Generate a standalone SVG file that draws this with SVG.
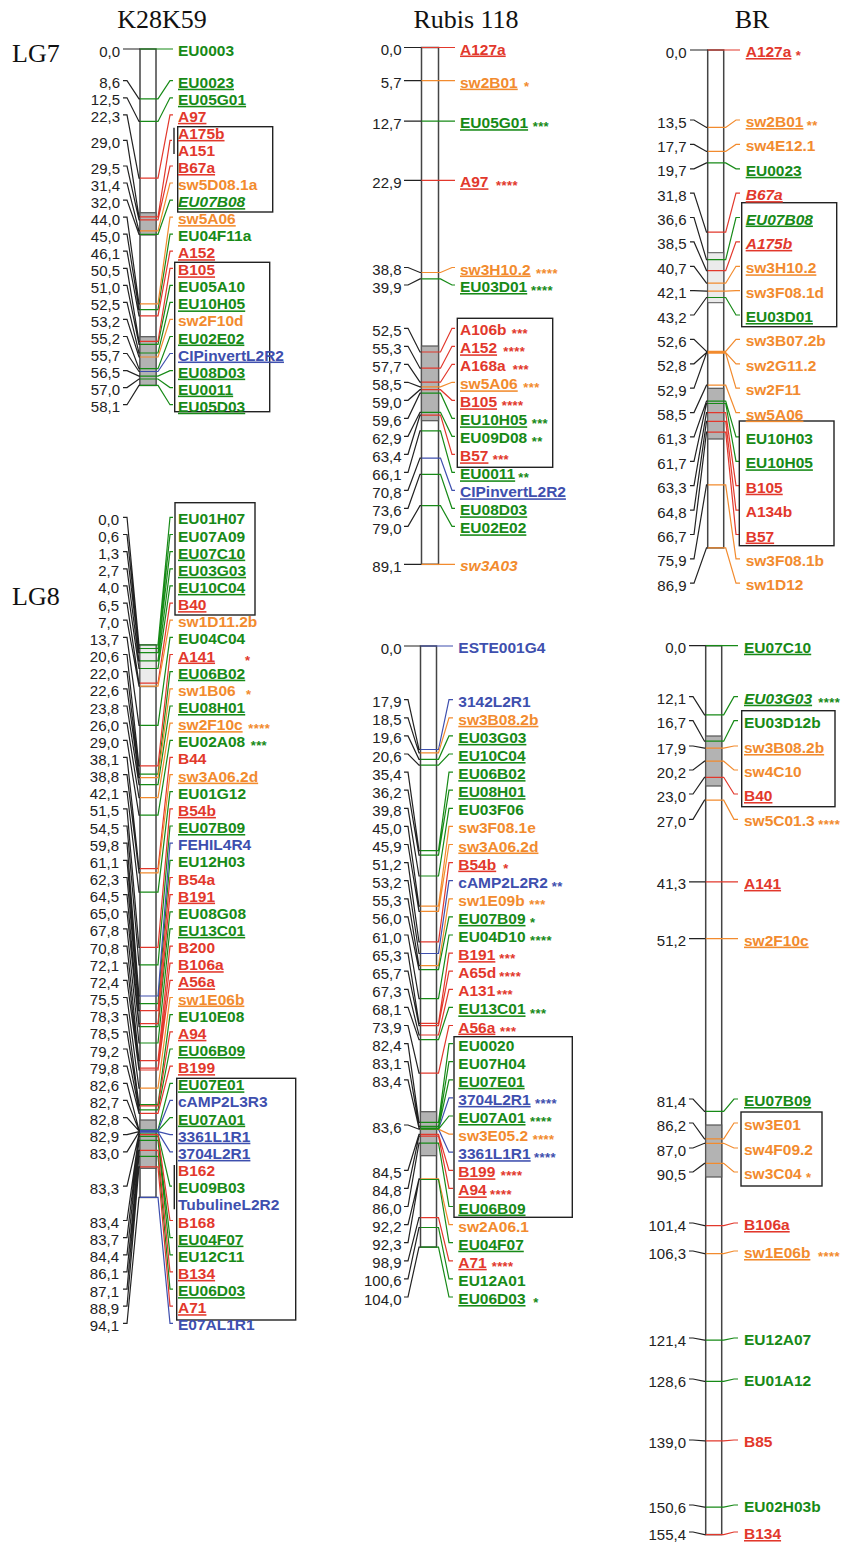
<svg xmlns="http://www.w3.org/2000/svg" width="854" height="1543" viewBox="0 0 854 1543">
<style>
text{font-family:"Liberation Sans",Arial,Helvetica,sans-serif}
.n{font-size:15px;fill:#222;text-anchor:end}
.l{font-size:15.5px;font-weight:bold}
.s{font-size:13px;font-weight:bold;letter-spacing:0.4px;transform:translate(0,1.2px)}
.u{text-decoration:underline;text-decoration-thickness:1.6px}
.i{font-style:italic}
.g{fill:#178a17}.r{fill:#e2382c}.o{fill:#f28b2e}.b{fill:#3e4fae}
.t{font-family:"Liberation Serif","Times New Roman",serif;font-size:26px;fill:#111}
path{fill:none;stroke-width:1.2}
.k{stroke:#222}
.cg{stroke:#178a17}.cr{stroke:#e2382c}.co{stroke:#f28b2e}.cb{stroke:#3e4fae}
.bar{fill:#fff;stroke:#444;stroke-width:1.5}
.gb{fill:#b3b3b3;stroke:#555;stroke-width:1.2}
.lb{fill:#ebebeb;stroke:#555;stroke-width:1}
.box{fill:none;stroke:#222;stroke-width:1.4}
.br{stroke:#222;stroke-width:1.4}
</style>
<g id="titles">
<text class="t" x="162" y="28" text-anchor="middle">K28K59</text>
<text class="t" x="466" y="28" text-anchor="middle">Rubis 118</text>
<text class="t" x="752" y="28" text-anchor="middle">BR</text>
<text class="t" x="12" y="62">LG7</text>
<text class="t" x="12" y="605">LG8</text>
</g>
<g id="bars">
<rect class="bar" x="140" y="49" width="16" height="336.4"/>
<rect class="gb" x="140" y="212.7" width="16" height="22.3"/>
<rect class="gb" x="140" y="336.7" width="16" height="48.7"/>
<rect class="bar" x="421.5" y="47.5" width="17" height="516.8"/>
<rect class="gb" x="421.5" y="346" width="17" height="74.7"/>
<rect class="bar" x="707.7" y="50" width="16" height="497.9"/>
<rect class="lb" x="707.7" y="252.7" width="16" height="50"/>
<rect class="gb" x="707.7" y="388.3" width="16" height="50.7"/>
<rect class="bar" x="140" y="645" width="16" height="552.4"/>
<rect class="lb" x="140" y="645" width="16" height="41.7"/>
<rect class="gb" x="140" y="1120" width="16" height="48.3"/>
<rect class="bar" x="420.5" y="646" width="16" height="601.1"/>
<rect class="gb" x="420.5" y="1111.7" width="16" height="44"/>
<rect class="bar" x="705.7" y="645.7" width="16" height="888.9"/>
<rect class="gb" x="705.7" y="736" width="16" height="50"/>
<rect class="gb" x="705.7" y="1125" width="16" height="52"/>
</g>
<g id="connectors">
<path class="k" d="M123 49H140M123 80.7H127L139 98.8H140M123 97.8H127L139 121.4H140M123 114.8H127L139 178.1H140M123 140.4H127L139 216.9H140M123 166H127L139 219.8H140M123 183H127L139 230.8H140M123 200.1H127L139 234.3H140M123 217.1H127L139 303.8H140M123 234.2H127L139 309.6H140M123 251.2H127L139 315.9H140M123 268.3H127L139 341.4H140M123 285.3H127L139 344.3H140M123 302.4H127L139 353H140M123 319.4H127L139 357H140M123 336.5H127L139 368.6H140M123 353.5H127L139 371.5H140M123 370.6H127L139 376.1H140M123 387.6H127L139 379H140M123 404.7H127L139 385.4H140"/>
<path class="cg" d="M140 49H173M140 98.8H158L170 80.7H173M140 121.4H158L170 97.8H173M140 234.3H158L170 200.1H173M140 309.6H158L170 234.2H173M140 344.3H158L170 285.3H173M140 353H158L170 302.4H173M140 368.6H158L170 336.5H173M140 376.1H158L170 370.6H173M140 379H158L170 387.6H173M140 385.4H158L170 404.7H173"/>
<path class="cr" d="M140 178.1H158L170 114.8H173M140 216.9H158L170 140.4H172M140 219.8H158L170 166H173M140 315.9H158L170 251.2H173M140 341.4H158L170 268.3H173"/>
<path class="co" d="M140 230.8H158L170 183H173M140 303.8H158L170 217.1H173M140 357H158L170 319.4H173"/>
<path class="cb" d="M140 371.5H158L170 353.5H173"/>
<path class="br" d="M174 127.7V154"/>

<path class="k" d="M404 47.5H421.5M404 80.6H421.5M404 121.2H421.5M404 180.3H421.5M404 267.5H408L420 272.5H421.5M404 285H408L420 278.9H421.5M404 328.3H408L420 352H421.5M404 346.3H408L420 368.2H421.5M404 364.3H408L420 382.2H421.5M404 382.3H408L420 386.8H421.5M404 400.3H408L420 389.7H421.5M404 418.3H408L420 393.2H421.5M404 436.3H408L420 412.3H421.5M404 454.3H408L420 415.2H421.5M404 472.3H408L420 430.9H421.5M404 490.3H408L420 458.1H421.5M404 508.3H408L420 474.4H421.5M404 526.3H408L420 505.7H421.5M404 564.3H421.5"/>
<path class="cr" d="M421.5 47.5H455M421.5 180.3H455M421.5 352H440.5L452 328.3H455M421.5 368.2H440.5L452 346.3H455M421.5 382.2H440.5L452 364.3H455M421.5 389.7H440.5L452 400.3H455M421.5 415.2H440.5L452 454.3H455"/>
<path class="co" d="M421.5 80.6H455M421.5 272.5H440.5L452 267.5H455M421.5 386.8H440.5L452 382.3H455M421.5 564.3H455"/>
<path class="cg" d="M421.5 121.2H455M421.5 278.9H440.5L452 285H455M421.5 393.2H440.5L452 418.3H455M421.5 412.3H440.5L452 436.3H455M421.5 430.9H440.5L452 472.3H455M421.5 474.4H440.5L452 508.3H455M421.5 505.7H440.5L452 526.3H455"/>
<path class="cb" d="M421.5 458.1H440.5L452 490.3H455"/>

<path class="k" d="M690 50H707.7M690 120H694L706.5 127.4H707.7M690 144.4H694L706.5 151.4H707.7M690 168.8H694L706.5 162.9H707.7M690 193.1H694L706.5 232.2H707.7M690 217.5H694L706.5 259.7H707.7M690 241.9H694L706.5 270.6H707.7M690 266.3H694L706.5 283.2H707.7M690 290.7H694L706.5 291.2H707.7M690 315H694L706.5 297.5H707.7M690 339.4H694L706.5 351.4H707.7M690 363.8H694L706.5 352.5H707.7M690 388.2H694L706.5 353.1H707.7M690 412.6H694L706.5 385.2H707.7M690 436.9H694L706.5 401.2H707.7M690 461.3H694L706.5 403.5H707.7M690 485.7H694L706.5 412.7H707.7M690 510.1H694L706.5 421.3H707.7M690 534.5H694L706.5 432.2H707.7M690 558.8H694L706.5 484.9H707.7M690 583.2H694L706.5 547.9H707.7"/>
<path class="cr" d="M707.7 50H740M707.7 232.2H725.7L736 193.1H740M707.7 270.6H725.7L736 241.9H740M707.7 412.7H725.7L736 485.7H740M707.7 421.3H725.7L736 510.1H740M707.7 432.2H725.7L736 534.5H740"/>
<path class="co" d="M707.7 127.4H725.7L736 120H740M707.7 151.4H725.7L736 144.4H740M707.7 283.2H725.7L736 266.3H740M707.7 291.2H725.7L736 290.7H740M707.7 351.4H725.7L736 339.4H740M707.7 352.5H725.7L736 363.8H740M707.7 353.1H725.7L736 388.2H740M707.7 385.2H725.7L736 412.6H740M707.7 484.9H725.7L736 558.8H740M707.7 547.9H725.7L736 583.2H740"/>
<path class="cg" d="M707.7 162.9H725.7L736 168.8H740M707.7 259.7H725.7L736 217.5H740M707.7 297.5H725.7L736 315H740M707.7 401.2H725.7L736 436.9H740M707.7 403.5H725.7L736 461.3H740"/>

<path class="k" d="M123 517.3H127L139 645H140M123 534.5H127L139 648.5H140M123 551.6H127L139 652.6H140M123 568.8H127L139 660.8H140M123 585.9H127L139 668.5H140M123 603.1H127L139 683.2H140M123 620.2H127L139 686.1H140M123 637.4H127L139 725.4H140M123 654.5H127L139 765.9H140M123 671.7H127L139 774.1H140M123 688.8H127L139 777.7H140M123 706H127L139 784.7H140M123 723.1H127L139 797.6H140M123 740.3H127L139 815.2H140M123 757.4H127L139 868.6H140M123 774.6H127L139 872.8H140M123 791.7H127L139 892.1H140M123 808.9H127L139 947.3H140M123 826H127L139 964.9H140M123 843.2H127L139 996H140M123 860.3H127L139 1003.7H140M123 877.5H127L139 1010.7H140M123 894.6H127L139 1023.6H140M123 911.8H127L139 1026.6H140M123 928.9H127L139 1043H140M123 946.1H127L139 1060.6H140M123 963.2H127L139 1068.2H140M123 980.4H127L139 1070H140M123 997.5H127L139 1088.2H140M123 1014.7H127L139 1104.6H140M123 1031.8H127L139 1105.8H140M123 1049H127L139 1109.9H140M123 1066.1H127L139 1113.4H140M123 1083.3H127L139 1129.9H140M123 1100.4H127L139 1130.4H140M123 1117.6H127L139 1131H140M123 1134.7H127L139 1131.6H140M123 1151.9H127L139 1132.2H140M123 1186.2H127L139 1134H140M123 1220.5H127L139 1134.6H140M123 1237.6H127L139 1136.3H140M123 1254.8H127L139 1140.4H140M123 1271.9H127L139 1150.4H140M123 1289.1H127L139 1156.3H140M123 1306.2H127L139 1166.8H140M123 1323.4H127L139 1197.4H140"/>
<path class="cg" d="M140 645H158L170 517.3H173M140 648.5H158L170 534.5H173M140 652.6H158L170 551.6H173M140 660.8H158L170 568.8H173M140 668.5H158L170 585.9H173M140 725.4H158L170 637.4H173M140 774.1H158L170 671.7H173M140 784.7H158L170 706H173M140 815.2H158L170 740.3H173M140 892.1H158L170 791.7H173M140 964.9H158L170 826H173M140 1003.7H158L170 860.3H173M140 1026.6H158L170 911.8H173M140 1043H158L170 928.9H173M140 1104.6H158L170 1014.7H173M140 1109.9H158L170 1049H173M140 1129.9H158L170 1083.3H173M140 1131H158L170 1117.6H173M140 1134H158L170 1186.2H172M140 1136.3H158L170 1237.6H173M140 1140.4H158L170 1254.8H173M140 1156.3H158L170 1289.1H173"/>
<path class="cr" d="M140 683.2H158L170 603.1H173M140 765.9H158L170 654.5H173M140 868.6H158L170 757.4H173M140 947.3H158L170 808.9H173M140 1010.7H158L170 877.5H173M140 1023.6H158L170 894.6H173M140 1060.6H158L170 946.1H173M140 1068.2H158L170 963.2H173M140 1070H158L170 980.4H173M140 1105.8H158L170 1031.8H173M140 1113.4H158L170 1066.1H173M140 1134.6H158L170 1220.5H173M140 1150.4H158L170 1271.9H173M140 1166.8H158L170 1306.2H173"/>
<path class="co" d="M140 686.1H158L170 620.2H173M140 777.7H158L170 688.8H173M140 797.6H158L170 723.1H173M140 872.8H158L170 774.6H173M140 1088.2H158L170 997.5H173"/>
<path class="cb" d="M140 996H158L170 843.2H173M140 1130.4H158L170 1100.4H173M140 1131.6H158L170 1134.7H173M140 1132.2H158L170 1151.9H173M140 1197.4H158L170 1323.4H173"/>
<path class="br" d="M174.3 1165V1209.3"/>

<path class="k" d="M404 646H420.5M404 699.7H408L419 749.5H420.5M404 717.8H408L419 752.9H420.5M404 735.9H408L419 759.3H420.5M404 754H408L419 765.1H420.5M404 772.1H408L419 850.6H420.5M404 790.2H408L419 855.2H420.5M404 808.3H408L419 876H420.5M404 826.4H408L419 906.1H420.5M404 844.5H408L419 911.3H420.5M404 862.6H408L419 941.9H420.5M404 880.7H408L419 953.5H420.5M404 898.8H408L419 965.6H420.5M404 916.9H408L419 969.7H420.5M404 935H408L419 998.6H420.5M404 953.1H408L419 1023.4H420.5M404 971.2H408L419 1025.7H420.5M404 989.3H408L419 1035H420.5M404 1007.4H408L419 1039.6H420.5M404 1025.5H408L419 1073.1H420.5M404 1043.6H408L419 1122.3H420.5M404 1061.7H408L419 1126.3H420.5M404 1079.8H408L419 1128.1H420.5M404 1125H408L419 1129.2H420.5M404 1170.3H408L419 1134.4H420.5M404 1188.4H408L419 1136.1H420.5M404 1206.5H408L419 1143.1H420.5M404 1224.6H408L419 1178.9H420.5M404 1242.7H408L419 1179.5H420.5M404 1260.8H408L419 1217.6H420.5M404 1278.9H408L419 1227.5H420.5M404 1297H408L419 1247.1H420.5"/>
<path class="cb" d="M420.5 646H453M420.5 749.5H438.5L449 699.7H453M420.5 953.5H438.5L449 880.7H453M420.5 1129.2H438.5L449 1097.9H453M420.5 1129.2H438.5L449 1152.2H453"/>
<path class="co" d="M420.5 752.9H438.5L449 717.8H453M420.5 906.1H438.5L449 826.4H453M420.5 911.3H438.5L449 844.5H453M420.5 965.6H438.5L449 898.8H453M420.5 1129.2H438.5L449 1134.1H453M420.5 1178.9H438.5L449 1224.6H453"/>
<path class="cg" d="M420.5 759.3H438.5L449 735.9H453M420.5 765.1H438.5L449 754H453M420.5 850.6H438.5L449 772.1H453M420.5 855.2H438.5L449 790.2H453M420.5 876H438.5L449 808.3H453M420.5 969.7H438.5L449 916.9H453M420.5 998.6H438.5L449 935H453M420.5 1039.6H438.5L449 1007.4H453M420.5 1122.3H438.5L449 1043.6H453M420.5 1126.3H438.5L449 1061.7H453M420.5 1128.1H438.5L449 1079.8H453M420.5 1129.2H438.5L449 1116H453M420.5 1143.1H438.5L449 1206.5H453M420.5 1179.5H438.5L449 1242.7H453M420.5 1227.5H438.5L449 1278.9H453M420.5 1247.1H438.5L449 1297H453"/>
<path class="cr" d="M420.5 941.9H438.5L449 862.6H453M420.5 1023.4H438.5L449 953.1H453M420.5 1025.7H438.5L449 971.2H453M420.5 1035H438.5L449 989.3H453M420.5 1073.1H438.5L449 1025.5H453M420.5 1134.4H438.5L449 1170.3H453M420.5 1136.1H438.5L449 1188.4H453M420.5 1217.6H438.5L449 1260.8H453"/>

<path class="k" d="M689 645.7H705.7M689 696.7H693L704.5 714.9H705.7M689 720.7H693L704.5 741.2H705.7M689 746H693L704.5 748.1H705.7M689 770H693L704.5 761.2H705.7M689 794H693L704.5 777.3H705.7M689 819.3H693L704.5 800.1H705.7M689 881.9H705.7M689 938.6H705.7M689 1099H693L704.5 1111.3H705.7M689 1123H693L704.5 1138.8H705.7M689 1148H693L704.5 1143.3H705.7M689 1172H693L704.5 1163.4H705.7M689 1223H693L704.5 1225.7H705.7M689 1251H693L704.5 1253.7H705.7M689 1338H693L704.5 1340.1H705.7M689 1379H693L704.5 1381.3H705.7M689 1440H693L704.5 1440.8H705.7M689 1505H693L704.5 1507.1H705.7M689 1532H693L704.5 1534.6H705.7"/>
<path class="cg" d="M705.7 645.7H738M705.7 714.9H723.7L734 696.7H738M705.7 741.2H723.7L734 720.7H738M705.7 1111.3H723.7L734 1099H738M705.7 1340.1H723.7L734 1338H738M705.7 1381.3H723.7L734 1379H738M705.7 1507.1H723.7L734 1505H738"/>
<path class="co" d="M705.7 748.1H723.7L734 746H738M705.7 761.2H723.7L734 770H738M705.7 800.1H723.7L734 819.3H738M705.7 938.6H738M705.7 1138.8H723.7L734 1123H738M705.7 1143.3H723.7L734 1148H738M705.7 1163.4H723.7L734 1172H738M705.7 1253.7H723.7L734 1251H738"/>
<path class="cr" d="M705.7 777.3H723.7L734 794H738M705.7 881.9H738M705.7 1225.7H723.7L734 1223H738M705.7 1440.8H723.7L734 1440H738M705.7 1534.6H723.7L734 1532H738"/>
</g>
<g id="boxes">
<rect class="box" x="177.7" y="126.7" width="95" height="85.3"/>
<rect class="box" x="174.7" y="262.3" width="95" height="149.4"/>
<rect class="box" x="457.3" y="318.3" width="95.4" height="149"/>
<rect class="box" x="741.7" y="202.7" width="95" height="124"/>
<rect class="box" x="739.3" y="421" width="94.7" height="124.7"/>
<rect class="box" x="175" y="502.7" width="80" height="112.3"/>
<rect class="box" x="176.7" y="1078.3" width="119" height="241.7"/>
<rect class="box" x="454" y="1036.7" width="118.3" height="180.6"/>
<rect class="box" x="741.7" y="710.7" width="93.3" height="96"/>
<rect class="box" x="741" y="1112" width="81" height="74"/>
</g>
<g id="k28-lg7">
<g id="k7-EU0003"><text class="n" x="120" y="56.5">0,0</text><text class="l g" x="178" y="56">EU0003</text></g>
<g id="k7-EU0023"><text class="n" x="120" y="88.2">8,6</text><text class="l g u" x="178" y="87.7">EU0023</text></g>
<g id="k7-EU05G01"><text class="n" x="120" y="105.3">12,5</text><text class="l g u" x="178" y="104.8">EU05G01</text></g>
<g id="k7-A97"><text class="n" x="120" y="122.3">22,3</text><text class="l r u" x="178" y="121.8">A97</text></g>
<g id="k7-A175b"><text class="n" x="120" y="147.9">29,0</text><text class="l r u" x="178" y="138.9">A175b</text><text class="l r" x="178" y="155.9">A151</text></g>
<g id="k7-B67a"><text class="n" x="120" y="173.5">29,5</text><text class="l r u" x="178" y="173">B67a</text></g>
<g id="k7-sw5D08.1a"><text class="n" x="120" y="190.5">31,4</text><text class="l o" x="178" y="190">sw5D08.1a</text></g>
<g id="k7-EU07B08"><text class="n" x="120" y="207.6">32,0</text><text class="l g u i" x="178" y="207.1">EU07B08</text></g>
<g id="k7-sw5A06"><text class="n" x="120" y="224.6">44,0</text><text class="l o u" x="178" y="224.1">sw5A06</text></g>
<g id="k7-EU04F11a"><text class="n" x="120" y="241.7">45,0</text><text class="l g" x="178" y="241.2">EU04F11a</text></g>
<g id="k7-A152"><text class="n" x="120" y="258.7">46,1</text><text class="l r u" x="178" y="258.2">A152</text></g>
<g id="k7-B105"><text class="n" x="120" y="275.8">50,5</text><text class="l r u" x="178" y="275.3">B105</text></g>
<g id="k7-EU05A10"><text class="n" x="120" y="292.8">51,0</text><text class="l g" x="178" y="292.3">EU05A10</text></g>
<g id="k7-EU10H05"><text class="n" x="120" y="309.9">52,5</text><text class="l g u" x="178" y="309.4">EU10H05</text></g>
<g id="k7-sw2F10d"><text class="n" x="120" y="326.9">53,2</text><text class="l o" x="178" y="326.4">sw2F10d</text></g>
<g id="k7-EU02E02"><text class="n" x="120" y="344">55,2</text><text class="l g u" x="178" y="343.5">EU02E02</text></g>
<g id="k7-CIPinvertL2R2"><text class="n" x="120" y="361">55,7</text><text class="l b u" x="178" y="360.5">CIPinvertL2R2</text></g>
<g id="k7-EU08D03"><text class="n" x="120" y="378.1">56,5</text><text class="l g u" x="178" y="377.6">EU08D03</text></g>
<g id="k7-EU0011"><text class="n" x="120" y="395.1">57,0</text><text class="l g u" x="178" y="394.6">EU0011</text></g>
<g id="k7-EU05D03"><text class="n" x="120" y="412.2">58,1</text><text class="l g u" x="178" y="411.7">EU05D03</text></g>
</g>
<g id="rubis-lg7">
<g id="r7-A127a"><text class="n" x="401.5" y="55">0,0</text><text class="l r u" x="460" y="54.5">A127a</text></g>
<g id="r7-sw2B01"><text class="n" x="401.5" y="88.1">5,7</text><text class="l o u" x="460" y="87.6">sw2B01</text><text class="s o" x="524" y="89.6">*</text></g>
<g id="r7-EU05G01"><text class="n" x="401.5" y="128.7">12,7</text><text class="l g u" x="460" y="128.2">EU05G01</text><text class="s g" x="532.7" y="130.2">***</text></g>
<g id="r7-A97"><text class="n" x="401.5" y="187.8">22,9</text><text class="l r u" x="460" y="187.3">A97</text><text class="s r" x="496" y="189.3">****</text></g>
<g id="r7-sw3H10.2"><text class="n" x="401.5" y="275">38,8</text><text class="l o u" x="460" y="274.5">sw3H10.2</text><text class="s o" x="536" y="276.5">****</text></g>
<g id="r7-EU03D01"><text class="n" x="401.5" y="292.5">39,9</text><text class="l g u" x="460" y="292">EU03D01</text><text class="s g" x="531" y="294">****</text></g>
<g id="r7-A106b"><text class="n" x="401.5" y="335.8">52,5</text><text class="l r" x="460" y="335.3">A106b</text><text class="s r" x="511.7" y="337.3">***</text></g>
<g id="r7-A152"><text class="n" x="401.5" y="353.8">55,3</text><text class="l r u" x="460" y="353.3">A152</text><text class="s r" x="503.3" y="355.3">****</text></g>
<g id="r7-A168a"><text class="n" x="401.5" y="371.8">57,7</text><text class="l r" x="460" y="371.3">A168a</text><text class="s r" x="512.7" y="373.3">***</text></g>
<g id="r7-sw5A06"><text class="n" x="401.5" y="389.8">58,5</text><text class="l o u" x="460" y="389.3">sw5A06</text><text class="s o" x="523.3" y="391.3">***</text></g>
<g id="r7-B105"><text class="n" x="401.5" y="407.8">59,0</text><text class="l r u" x="460" y="407.3">B105</text><text class="s r" x="501.7" y="409.3">****</text></g>
<g id="r7-EU10H05"><text class="n" x="401.5" y="425.8">59,6</text><text class="l g u" x="460" y="425.3">EU10H05</text><text class="s g" x="531.7" y="427.3">***</text></g>
<g id="r7-EU09D08"><text class="n" x="401.5" y="443.8">62,9</text><text class="l g" x="460" y="443.3">EU09D08</text><text class="s g" x="531.7" y="445.3">**</text></g>
<g id="r7-B57"><text class="n" x="401.5" y="461.8">63,4</text><text class="l r u" x="460" y="461.3">B57</text><text class="s r" x="492.7" y="463.3">***</text></g>
<g id="r7-EU0011"><text class="n" x="401.5" y="479.8">66,1</text><text class="l g u" x="460" y="479.3">EU0011</text><text class="s g" x="518.3" y="481.3">**</text></g>
<g id="r7-CIPinvertL2R2"><text class="n" x="401.5" y="497.8">70,8</text><text class="l b u" x="460" y="497.3">CIPinvertL2R2</text></g>
<g id="r7-EU08D03"><text class="n" x="401.5" y="515.8">73,6</text><text class="l g u" x="460" y="515.3">EU08D03</text></g>
<g id="r7-EU02E02"><text class="n" x="401.5" y="533.8">79,0</text><text class="l g u" x="460" y="533.3">EU02E02</text></g>
<g id="r7-sw3A03"><text class="n" x="401.5" y="571.8">89,1</text><text class="l o i" x="460" y="571.3">sw3A03</text></g>
</g>
<g id="br-lg7">
<g id="b7-A127a"><text class="n" x="686.5" y="57.5">0,0</text><text class="l r u" x="745.7" y="57">A127a</text><text class="s r" x="795.7" y="59">*</text></g>
<g id="b7-sw2B01"><text class="n" x="686.5" y="127.5">13,5</text><text class="l o u" x="745.7" y="127">sw2B01</text><text class="s o" x="806.7" y="129">**</text></g>
<g id="b7-sw4E12.1"><text class="n" x="686.5" y="151.9">17,7</text><text class="l o" x="745.7" y="151.4">sw4E12.1</text></g>
<g id="b7-EU0023"><text class="n" x="686.5" y="176.3">19,7</text><text class="l g u" x="745.7" y="175.8">EU0023</text></g>
<g id="b7-B67a"><text class="n" x="686.5" y="200.6">31,8</text><text class="l r u i" x="745.7" y="200.1">B67a</text></g>
<g id="b7-EU07B08"><text class="n" x="686.5" y="225">36,6</text><text class="l g u i" x="745.7" y="224.5">EU07B08</text></g>
<g id="b7-A175b"><text class="n" x="686.5" y="249.4">38,5</text><text class="l r u i" x="745.7" y="248.9">A175b</text></g>
<g id="b7-sw3H10.2"><text class="n" x="686.5" y="273.8">40,7</text><text class="l o u" x="745.7" y="273.3">sw3H10.2</text></g>
<g id="b7-sw3F08.1d"><text class="n" x="686.5" y="298.2">42,1</text><text class="l o" x="745.7" y="297.7">sw3F08.1d</text></g>
<g id="b7-EU03D01"><text class="n" x="686.5" y="322.5">43,2</text><text class="l g u" x="745.7" y="322">EU03D01</text></g>
<g id="b7-sw3B07.2b"><text class="n" x="686.5" y="346.9">52,6</text><text class="l o" x="745.7" y="346.4">sw3B07.2b</text></g>
<g id="b7-sw2G11.2"><text class="n" x="686.5" y="371.3">52,8</text><text class="l o" x="745.7" y="370.8">sw2G11.2</text></g>
<g id="b7-sw2F11"><text class="n" x="686.5" y="395.7">52,9</text><text class="l o" x="745.7" y="395.2">sw2F11</text></g>
<g id="b7-sw5A06"><text class="n" x="686.5" y="420.1">58,5</text><text class="l o u" x="745.7" y="419.6">sw5A06</text></g>
<g id="b7-EU10H03"><text class="n" x="686.5" y="444.4">61,3</text><text class="l g" x="745.7" y="443.9">EU10H03</text></g>
<g id="b7-EU10H05"><text class="n" x="686.5" y="468.8">61,7</text><text class="l g u" x="745.7" y="468.3">EU10H05</text></g>
<g id="b7-B105"><text class="n" x="686.5" y="493.2">63,3</text><text class="l r u" x="745.7" y="492.7">B105</text></g>
<g id="b7-A134b"><text class="n" x="686.5" y="517.6">64,8</text><text class="l r" x="745.7" y="517.1">A134b</text></g>
<g id="b7-B57"><text class="n" x="686.5" y="542">66,7</text><text class="l r u" x="745.7" y="541.5">B57</text></g>
<g id="b7-sw3F08.1b"><text class="n" x="686.5" y="566.3">75,9</text><text class="l o" x="745.7" y="565.8">sw3F08.1b</text></g>
<g id="b7-sw1D12"><text class="n" x="686.5" y="590.7">86,9</text><text class="l o" x="745.7" y="590.2">sw1D12</text></g>
</g>
<g id="k28-lg8">
<g id="k8-EU01H07"><text class="n" x="119" y="524.8">0,0</text><text class="l g" x="178" y="524.3">EU01H07</text></g>
<g id="k8-EU07A09"><text class="n" x="119" y="542">0,6</text><text class="l g" x="178" y="541.5">EU07A09</text></g>
<g id="k8-EU07C10"><text class="n" x="119" y="559.1">1,3</text><text class="l g u" x="178" y="558.6">EU07C10</text></g>
<g id="k8-EU03G03"><text class="n" x="119" y="576.3">2,7</text><text class="l g u" x="178" y="575.8">EU03G03</text></g>
<g id="k8-EU10C04"><text class="n" x="119" y="593.4">4,0</text><text class="l g u" x="178" y="592.9">EU10C04</text></g>
<g id="k8-B40"><text class="n" x="119" y="610.6">6,5</text><text class="l r u" x="178" y="610.1">B40</text></g>
<g id="k8-sw1D11.2b"><text class="n" x="119" y="627.7">7,0</text><text class="l o" x="178" y="627.2">sw1D11.2b</text></g>
<g id="k8-EU04C04"><text class="n" x="119" y="644.9">13,7</text><text class="l g" x="178" y="644.4">EU04C04</text></g>
<g id="k8-A141"><text class="n" x="119" y="662">20,6</text><text class="l r u" x="178" y="661.5">A141</text><text class="s r" x="245" y="663.5">*</text></g>
<g id="k8-EU06B02"><text class="n" x="119" y="679.2">22,0</text><text class="l g u" x="178" y="678.7">EU06B02</text></g>
<g id="k8-sw1B06"><text class="n" x="119" y="696.3">22,6</text><text class="l o" x="178" y="695.8">sw1B06</text><text class="s o" x="246" y="697.8">*</text></g>
<g id="k8-EU08H01"><text class="n" x="119" y="713.5">23,8</text><text class="l g u" x="178" y="713">EU08H01</text></g>
<g id="k8-sw2F10c"><text class="n" x="119" y="730.6">26,0</text><text class="l o u" x="178" y="730.1">sw2F10c</text><text class="s o" x="248.3" y="732.1">****</text></g>
<g id="k8-EU02A08"><text class="n" x="119" y="747.8">29,0</text><text class="l g" x="178" y="747.3">EU02A08</text><text class="s g" x="250.7" y="749.3">***</text></g>
<g id="k8-B44"><text class="n" x="119" y="764.9">38,1</text><text class="l r" x="178" y="764.4">B44</text></g>
<g id="k8-sw3A06.2d"><text class="n" x="119" y="782.1">38,8</text><text class="l o u" x="178" y="781.6">sw3A06.2d</text></g>
<g id="k8-EU01G12"><text class="n" x="119" y="799.2">42,1</text><text class="l g" x="178" y="798.7">EU01G12</text></g>
<g id="k8-B54b"><text class="n" x="119" y="816.4">51,5</text><text class="l r u" x="178" y="815.9">B54b</text></g>
<g id="k8-EU07B09"><text class="n" x="119" y="833.5">54,5</text><text class="l g u" x="178" y="833">EU07B09</text></g>
<g id="k8-FEHIL4R4"><text class="n" x="119" y="850.7">59,8</text><text class="l b" x="178" y="850.2">FEHIL4R4</text></g>
<g id="k8-EU12H03"><text class="n" x="119" y="867.8">61,1</text><text class="l g" x="178" y="867.3">EU12H03</text></g>
<g id="k8-B54a"><text class="n" x="119" y="885">62,3</text><text class="l r" x="178" y="884.5">B54a</text></g>
<g id="k8-B191"><text class="n" x="119" y="902.1">64,5</text><text class="l r u" x="178" y="901.6">B191</text></g>
<g id="k8-EU08G08"><text class="n" x="119" y="919.3">65,0</text><text class="l g" x="178" y="918.8">EU08G08</text></g>
<g id="k8-EU13C01"><text class="n" x="119" y="936.4">67,8</text><text class="l g u" x="178" y="935.9">EU13C01</text></g>
<g id="k8-B200"><text class="n" x="119" y="953.6">70,8</text><text class="l r" x="178" y="953.1">B200</text></g>
<g id="k8-B106a"><text class="n" x="119" y="970.7">72,1</text><text class="l r u" x="178" y="970.2">B106a</text></g>
<g id="k8-A56a"><text class="n" x="119" y="987.9">72,4</text><text class="l r u" x="178" y="987.4">A56a</text></g>
<g id="k8-sw1E06b"><text class="n" x="119" y="1005">75,5</text><text class="l o u" x="178" y="1004.5">sw1E06b</text></g>
<g id="k8-EU10E08"><text class="n" x="119" y="1022.2">78,3</text><text class="l g" x="178" y="1021.7">EU10E08</text></g>
<g id="k8-A94"><text class="n" x="119" y="1039.3">78,5</text><text class="l r u" x="178" y="1038.8">A94</text></g>
<g id="k8-EU06B09"><text class="n" x="119" y="1056.5">79,2</text><text class="l g u" x="178" y="1056">EU06B09</text></g>
<g id="k8-B199"><text class="n" x="119" y="1073.6">79,8</text><text class="l r u" x="178" y="1073.1">B199</text></g>
<g id="k8-EU07E01"><text class="n" x="119" y="1090.8">82,6</text><text class="l g u" x="178" y="1090.3">EU07E01</text></g>
<g id="k8-cAMP2L3R3"><text class="n" x="119" y="1107.9">82,7</text><text class="l b" x="178" y="1107.4">cAMP2L3R3</text></g>
<g id="k8-EU07A01"><text class="n" x="119" y="1125.1">82,8</text><text class="l g u" x="178" y="1124.6">EU07A01</text></g>
<g id="k8-3361L1R1"><text class="n" x="119" y="1142.2">82,9</text><text class="l b u" x="178" y="1141.7">3361L1R1</text></g>
<g id="k8-3704L2R1"><text class="n" x="119" y="1159.4">83,0</text><text class="l b u" x="178" y="1158.9">3704L2R1</text></g>
<g id="k8-B162"><text class="n" x="119" y="1193.7">83,3</text><text class="l r" x="178" y="1176">B162</text><text class="l g" x="178" y="1193.2">EU09B03</text><text class="l b" x="178" y="1210.3">TubulineL2R2</text></g>
<g id="k8-B168"><text class="n" x="119" y="1228">83,4</text><text class="l r" x="178" y="1227.5">B168</text></g>
<g id="k8-EU04F07"><text class="n" x="119" y="1245.1">83,7</text><text class="l g u" x="178" y="1244.6">EU04F07</text></g>
<g id="k8-EU12C11"><text class="n" x="119" y="1262.3">84,4</text><text class="l g" x="178" y="1261.8">EU12C11</text></g>
<g id="k8-B134"><text class="n" x="119" y="1279.4">86,1</text><text class="l r u" x="178" y="1278.9">B134</text></g>
<g id="k8-EU06D03"><text class="n" x="119" y="1296.6">87,1</text><text class="l g u" x="178" y="1296.1">EU06D03</text></g>
<g id="k8-A71"><text class="n" x="119" y="1313.7">88,9</text><text class="l r u" x="178" y="1313.2">A71</text></g>
<g id="k8-E07AL1R1"><text class="n" x="119" y="1330.9">94,1</text><text class="l b" x="178" y="1330.4">E07AL1R1</text></g>
</g>
<g id="rubis-lg8">
<g id="r8-ESTE001G4"><text class="n" x="401.5" y="653.5">0,0</text><text class="l b" x="458.3" y="653">ESTE001G4</text></g>
<g id="r8-3142L2R1"><text class="n" x="401.5" y="707.2">17,9</text><text class="l b" x="458.3" y="706.7">3142L2R1</text></g>
<g id="r8-sw3B08.2b"><text class="n" x="401.5" y="725.3">18,5</text><text class="l o u" x="458.3" y="724.8">sw3B08.2b</text></g>
<g id="r8-EU03G03"><text class="n" x="401.5" y="743.4">19,6</text><text class="l g u" x="458.3" y="742.9">EU03G03</text></g>
<g id="r8-EU10C04"><text class="n" x="401.5" y="761.5">20,6</text><text class="l g u" x="458.3" y="761">EU10C04</text></g>
<g id="r8-EU06B02"><text class="n" x="401.5" y="779.6">35,4</text><text class="l g u" x="458.3" y="779.1">EU06B02</text></g>
<g id="r8-EU08H01"><text class="n" x="401.5" y="797.7">36,2</text><text class="l g u" x="458.3" y="797.2">EU08H01</text></g>
<g id="r8-EU03F06"><text class="n" x="401.5" y="815.8">39,8</text><text class="l g" x="458.3" y="815.3">EU03F06</text></g>
<g id="r8-sw3F08.1e"><text class="n" x="401.5" y="833.9">45,0</text><text class="l o" x="458.3" y="833.4">sw3F08.1e</text></g>
<g id="r8-sw3A06.2d"><text class="n" x="401.5" y="852">45,9</text><text class="l o u" x="458.3" y="851.5">sw3A06.2d</text></g>
<g id="r8-B54b"><text class="n" x="401.5" y="870.1">51,2</text><text class="l r u" x="458.3" y="869.6">B54b</text><text class="s r" x="503.3" y="871.6">*</text></g>
<g id="r8-cAMP2L2R2"><text class="n" x="401.5" y="888.2">53,2</text><text class="l b" x="458.3" y="887.7">cAMP2L2R2</text><text class="s b" x="551.7" y="889.7">**</text></g>
<g id="r8-sw1E09b"><text class="n" x="401.5" y="906.3">55,3</text><text class="l o" x="458.3" y="905.8">sw1E09b</text><text class="s o" x="529.3" y="907.8">***</text></g>
<g id="r8-EU07B09"><text class="n" x="401.5" y="924.4">56,0</text><text class="l g u" x="458.3" y="923.9">EU07B09</text><text class="s g" x="530" y="925.9">*</text></g>
<g id="r8-EU04D10"><text class="n" x="401.5" y="942.5">61,0</text><text class="l g" x="458.3" y="942">EU04D10</text><text class="s g" x="530" y="944">****</text></g>
<g id="r8-B191"><text class="n" x="401.5" y="960.6">65,3</text><text class="l r u" x="458.3" y="960.1">B191</text><text class="s r" x="499.3" y="962.1">***</text></g>
<g id="r8-A65d"><text class="n" x="401.5" y="978.7">65,7</text><text class="l r" x="458.3" y="978.2">A65d</text><text class="s r" x="499.3" y="980.2">****</text></g>
<g id="r8-A131"><text class="n" x="401.5" y="996.8">67,3</text><text class="l r" x="458.3" y="996.3">A131</text><text class="s r" x="496.7" y="998.3">***</text></g>
<g id="r8-EU13C01"><text class="n" x="401.5" y="1014.9">68,1</text><text class="l g u" x="458.3" y="1014.4">EU13C01</text><text class="s g" x="530" y="1016.4">***</text></g>
<g id="r8-A56a"><text class="n" x="401.5" y="1033">73,9</text><text class="l r u" x="458.3" y="1032.5">A56a</text><text class="s r" x="500" y="1034.5">***</text></g>
<g id="r8-EU0020"><text class="n" x="401.5" y="1051.1">82,4</text><text class="l g" x="458.3" y="1050.6">EU0020</text></g>
<g id="r8-EU07H04"><text class="n" x="401.5" y="1069.2">83,1</text><text class="l g" x="458.3" y="1068.7">EU07H04</text></g>
<g id="r8-EU07E01"><text class="n" x="401.5" y="1087.3">83,4</text><text class="l g u" x="458.3" y="1086.8">EU07E01</text></g>
<g id="r8-3704L2R1"><text class="n" x="401.5" y="1132.5">83,6</text><text class="l b u" x="458.3" y="1104.9">3704L2R1</text><text class="s b" x="535" y="1106.9">****</text><text class="l g u" x="458.3" y="1123">EU07A01</text><text class="s g" x="530" y="1125">****</text><text class="l o" x="458.3" y="1141.1">sw3E05.2</text><text class="s o" x="532.7" y="1143.1">****</text><text class="l b u" x="458.3" y="1159.2">3361L1R1</text><text class="s b" x="534" y="1161.2">****</text></g>
<g id="r8-B199"><text class="n" x="401.5" y="1177.8">84,5</text><text class="l r u" x="458.3" y="1177.3">B199</text><text class="s r" x="500.7" y="1179.3">****</text></g>
<g id="r8-A94"><text class="n" x="401.5" y="1195.9">84,8</text><text class="l r u" x="458.3" y="1195.4">A94</text><text class="s r" x="490" y="1197.4">****</text></g>
<g id="r8-EU06B09"><text class="n" x="401.5" y="1214">86,0</text><text class="l g u" x="458.3" y="1213.5">EU06B09</text></g>
<g id="r8-sw2A06.1"><text class="n" x="401.5" y="1232.1">92,2</text><text class="l o" x="458.3" y="1231.6">sw2A06.1</text></g>
<g id="r8-EU04F07"><text class="n" x="401.5" y="1250.2">92,3</text><text class="l g u" x="458.3" y="1249.7">EU04F07</text></g>
<g id="r8-A71"><text class="n" x="401.5" y="1268.3">98,9</text><text class="l r u" x="458.3" y="1267.8">A71</text><text class="s r" x="491.7" y="1269.8">****</text></g>
<g id="r8-EU12A01"><text class="n" x="401.5" y="1286.4">100,6</text><text class="l g" x="458.3" y="1285.9">EU12A01</text></g>
<g id="r8-EU06D03"><text class="n" x="401.5" y="1304.5">104,0</text><text class="l g u" x="458.3" y="1304">EU06D03</text><text class="s g" x="533.3" y="1306">*</text></g>
</g>
<g id="br-lg8">
<g id="b8-EU07C10"><text class="n" x="686" y="653.2">0,0</text><text class="l g u" x="744" y="652.7">EU07C10</text></g>
<g id="b8-EU03G03"><text class="n" x="686" y="704.2">12,1</text><text class="l g u i" x="744" y="703.7">EU03G03</text><text class="s g" x="818.3" y="705.7">****</text></g>
<g id="b8-EU03D12b"><text class="n" x="686" y="728.2">16,7</text><text class="l g" x="744" y="727.7">EU03D12b</text></g>
<g id="b8-sw3B08.2b"><text class="n" x="686" y="753.5">17,9</text><text class="l o u" x="744" y="753">sw3B08.2b</text></g>
<g id="b8-sw4C10"><text class="n" x="686" y="777.5">20,2</text><text class="l o" x="744" y="777">sw4C10</text></g>
<g id="b8-B40"><text class="n" x="686" y="801.5">23,0</text><text class="l r u" x="744" y="801">B40</text></g>
<g id="b8-sw5C01.3"><text class="n" x="686" y="826.8">27,0</text><text class="l o" x="744" y="826.3">sw5C01.3</text><text class="s o" x="818.3" y="828.3">****</text></g>
<g id="b8-A141"><text class="n" x="686" y="889.4">41,3</text><text class="l r u" x="744" y="888.9">A141</text></g>
<g id="b8-sw2F10c"><text class="n" x="686" y="946.1">51,2</text><text class="l o u" x="744" y="945.6">sw2F10c</text></g>
<g id="b8-EU07B09"><text class="n" x="686" y="1106.5">81,4</text><text class="l g u" x="744" y="1106">EU07B09</text></g>
<g id="b8-sw3E01"><text class="n" x="686" y="1130.5">86,2</text><text class="l o" x="744" y="1130">sw3E01</text></g>
<g id="b8-sw4F09.2"><text class="n" x="686" y="1155.5">87,0</text><text class="l o" x="744" y="1155">sw4F09.2</text></g>
<g id="b8-sw3C04"><text class="n" x="686" y="1179.5">90,5</text><text class="l o" x="744" y="1179">sw3C04</text><text class="s o" x="806" y="1181">*</text></g>
<g id="b8-B106a"><text class="n" x="686" y="1230.5">101,4</text><text class="l r u" x="744" y="1230">B106a</text></g>
<g id="b8-sw1E06b"><text class="n" x="686" y="1258.5">106,3</text><text class="l o u" x="744" y="1258">sw1E06b</text><text class="s o" x="818" y="1260">****</text></g>
<g id="b8-EU12A07"><text class="n" x="686" y="1345.5">121,4</text><text class="l g" x="744" y="1345">EU12A07</text></g>
<g id="b8-EU01A12"><text class="n" x="686" y="1386.5">128,6</text><text class="l g" x="744" y="1386">EU01A12</text></g>
<g id="b8-B85"><text class="n" x="686" y="1447.5">139,0</text><text class="l r" x="744" y="1447">B85</text></g>
<g id="b8-EU02H03b"><text class="n" x="686" y="1512.5">150,6</text><text class="l g" x="744" y="1512">EU02H03b</text></g>
<g id="b8-B134"><text class="n" x="686" y="1539.5">155,4</text><text class="l r u" x="744" y="1539">B134</text></g>
</g>
</svg>
